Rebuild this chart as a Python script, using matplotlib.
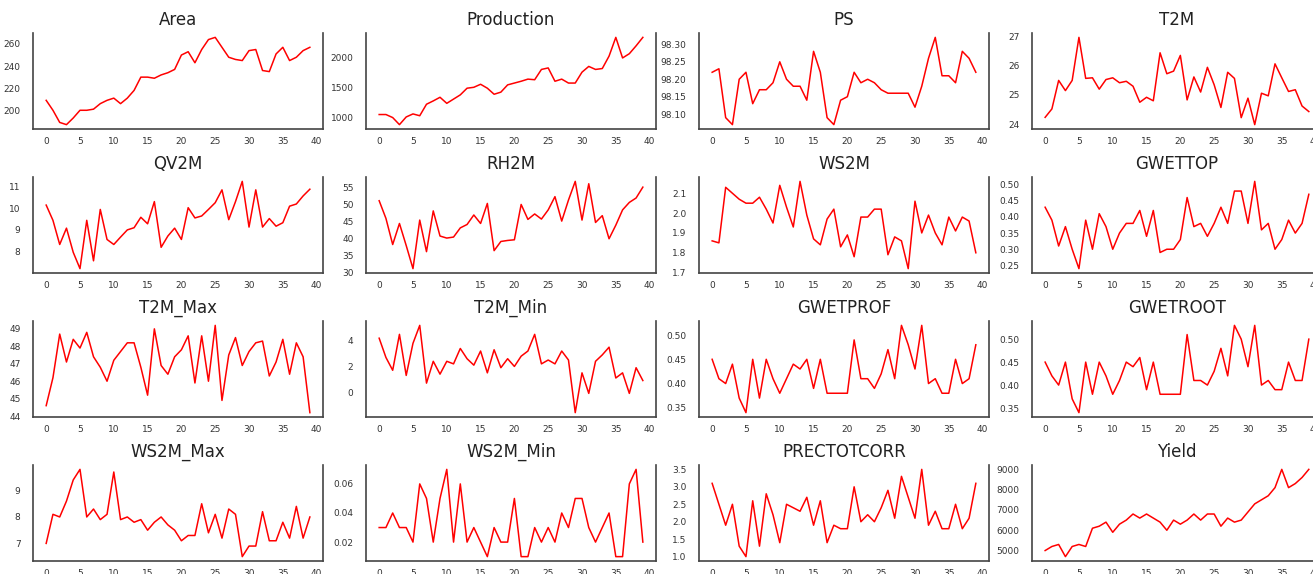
import numpy as np
import matplotlib.pyplot as plt
from matplotlib.ticker import MaxNLocator

# yearly records, index 0..39
area = [209, 200, 189, 187, 193, 200, 200, 201, 206, 209,
        211, 206, 211, 218, 230, 230, 229, 232, 234, 237,
        250, 253, 243, 255, 264, 266, 257, 248, 246, 245,
        254, 255, 236, 235, 251, 257, 245, 248, 254, 257]
production = [1050, 1050, 1000, 883, 1010, 1060, 1030, 1220, 1275, 1335,
              1235, 1305, 1375, 1485, 1500, 1550, 1485, 1385, 1420, 1540,
              1570, 1600, 1635, 1625, 1795, 1820, 1600, 1635, 1570, 1570,
              1750, 1845, 1795, 1810, 2015, 2325, 1985, 2055, 2185, 2325]
ps = [98.22, 98.23, 98.09, 98.07, 98.20, 98.22, 98.13, 98.17, 98.17, 98.19,
      98.25, 98.20, 98.18, 98.18, 98.14, 98.28, 98.22, 98.09, 98.07, 98.14,
      98.15, 98.22, 98.19, 98.20, 98.19, 98.17, 98.16, 98.16, 98.16, 98.16,
      98.12, 98.18, 98.26, 98.32, 98.21, 98.21, 98.19, 98.28, 98.26, 98.22]
t2m = [24.23, 24.52, 25.50, 25.15, 25.50, 26.98, 25.57, 25.59, 25.20, 25.53,
       25.59, 25.42, 25.47, 25.30, 24.75, 24.92, 24.80, 26.45, 25.73, 25.82,
       26.36, 24.83, 25.62, 25.10, 25.95, 25.35, 24.57, 25.78, 25.57, 24.22,
       24.89, 23.98, 25.06, 24.97, 26.07, 25.59, 25.12, 25.18, 24.62, 24.43]
qv2m = [10.14, 9.44, 8.33, 9.08, 7.97, 7.22, 9.44, 7.58, 9.94, 8.56,
        8.33, 8.67, 9.00, 9.10, 9.58, 9.28, 10.30, 8.20, 8.72, 9.08,
        8.56, 10.02, 9.55, 9.64, 9.94, 10.25, 10.84, 9.47, 10.30, 11.23,
        9.13, 10.84, 9.13, 9.52, 9.17, 9.33, 10.09, 10.19, 10.56, 10.87]
rh2m = [51.0, 45.8, 38.1, 44.3, 37.8, 31.0, 45.3, 36.0, 48.0, 40.6,
        40.0, 40.3, 43.0, 44.0, 46.8, 44.3, 50.2, 36.3, 39.0, 39.3,
        39.5, 49.9, 45.5, 47.1, 45.6, 48.3, 52.2, 45.0, 51.2, 56.7,
        45.3, 56.0, 44.6, 46.6, 39.8, 43.8, 48.3, 50.5, 51.8, 55.0]
ws2m = [1.86, 1.85, 2.13, 2.10, 2.07, 2.05, 2.05, 2.08, 2.02, 1.95,
        2.14, 2.03, 1.93, 2.16, 1.99, 1.87, 1.84, 1.97, 2.02, 1.83,
        1.89, 1.78, 1.98, 1.98, 2.02, 2.02, 1.79, 1.88, 1.86, 1.72,
        2.06, 1.90, 1.99, 1.90, 1.84, 1.98, 1.91, 1.98, 1.96, 1.80]
gwettop = [0.43, 0.39, 0.31, 0.37, 0.30, 0.24, 0.39, 0.30, 0.41, 0.37,
           0.30, 0.35, 0.38, 0.38, 0.42, 0.34, 0.42, 0.29, 0.30, 0.30,
           0.33, 0.46, 0.37, 0.38, 0.34, 0.38, 0.43, 0.38, 0.48, 0.48,
           0.38, 0.51, 0.36, 0.38, 0.30, 0.33, 0.39, 0.35, 0.38, 0.47]
t2m_max = [44.6, 46.2, 48.7, 47.1, 48.4, 47.9, 48.8, 47.4, 46.8, 46.0,
           47.2, 47.7, 48.2, 48.2, 46.8, 45.2, 49.0, 46.9, 46.4, 47.4,
           47.8, 48.6, 45.9, 48.6, 46.0, 49.2, 44.9, 47.5, 48.5, 46.9,
           47.7, 48.2, 48.3, 46.3, 47.1, 48.4, 46.4, 48.2, 47.4, 44.2]
t2m_min = [4.2, 2.7, 1.7, 4.5, 1.3, 3.8, 5.2, 0.7, 2.4, 1.4,
           2.4, 2.2, 3.4, 2.6, 2.1, 3.2, 1.5, 3.3, 1.9, 2.6,
           2.0, 2.8, 3.2, 4.5, 2.2, 2.5, 2.2, 3.2, 2.5, -1.6,
           1.5, -0.1, 2.4, 2.9, 3.5, 1.1, 1.5, -0.1, 1.9, 0.9]
gwetprof = [0.45, 0.41, 0.40, 0.44, 0.37, 0.34, 0.45, 0.37, 0.45, 0.41,
            0.38, 0.41, 0.44, 0.43, 0.45, 0.39, 0.45, 0.38, 0.38, 0.38,
            0.38, 0.49, 0.41, 0.41, 0.39, 0.42, 0.47, 0.41, 0.52, 0.48,
            0.43, 0.52, 0.40, 0.41, 0.38, 0.38, 0.45, 0.40, 0.41, 0.48]
gwetroot = [0.45, 0.42, 0.40, 0.45, 0.37, 0.34, 0.45, 0.38, 0.45, 0.42,
            0.38, 0.41, 0.45, 0.44, 0.46, 0.39, 0.45, 0.38, 0.38, 0.38,
            0.38, 0.51, 0.41, 0.41, 0.40, 0.43, 0.48, 0.42, 0.53, 0.50,
            0.44, 0.53, 0.40, 0.41, 0.39, 0.39, 0.45, 0.41, 0.41, 0.50]
ws2m_max = [7.0, 8.1, 8.0, 8.6, 9.4, 9.8, 8.0, 8.3, 7.9, 8.1,
            9.7, 7.9, 8.0, 7.8, 7.9, 7.5, 7.8, 8.0, 7.7, 7.5,
            7.1, 7.3, 7.3, 8.5, 7.4, 8.1, 7.2, 8.3, 8.1, 6.5,
            6.9, 6.9, 8.2, 7.1, 7.1, 7.8, 7.2, 8.4, 7.2, 8.0]
ws2m_min = [0.03, 0.03, 0.04, 0.03, 0.03, 0.02, 0.06, 0.05, 0.02, 0.05,
            0.07, 0.02, 0.06, 0.02, 0.03, 0.02, 0.01, 0.03, 0.02, 0.02,
            0.05, 0.01, 0.01, 0.03, 0.02, 0.03, 0.02, 0.04, 0.03, 0.05,
            0.05, 0.03, 0.02, 0.03, 0.04, 0.01, 0.01, 0.06, 0.07, 0.02]
prectotcorr = [3.1, 2.5, 1.9, 2.5, 1.3, 1.0, 2.6, 1.3, 2.8, 2.2,
               1.4, 2.5, 2.4, 2.3, 2.7, 1.9, 2.6, 1.4, 1.9, 1.8,
               1.8, 3.0, 2.0, 2.2, 2.0, 2.4, 2.9, 2.1, 3.3, 2.7,
               2.1, 3.5, 1.9, 2.3, 1.8, 1.8, 2.5, 1.8, 2.1, 3.1]
yield_ = [5000, 5200, 5300, 4700, 5200, 5300, 5200, 6100, 6200, 6400,
          5900, 6300, 6500, 6800, 6600, 6800, 6600, 6400, 6000, 6500,
          6300, 6500, 6800, 6500, 6800, 6800, 6200, 6600, 6400, 6500,
          6900, 7300, 7500, 7700, 8100, 9000, 8100, 8300, 8600, 9000]

titles = ["Area", "Production", "PS", "T2M",
          "QV2M", "RH2M", "WS2M", "GWETTOP",
          "T2M_Max", "T2M_Min", "GWETPROF", "GWETROOT",
          "WS2M_Max", "WS2M_Min", "PRECTOTCORR", "Yield"]
series = [area, production, ps, t2m,
          qv2m, rh2m, ws2m, gwettop,
          t2m_max, t2m_min, gwetprof, gwetroot,
          ws2m_max, ws2m_min, prectotcorr, yield_]

fig, axes = plt.subplots(4, 4, figsize=(13.13, 5.74), dpi=100)
fig.subplots_adjust(left=33/1313, right=1322/1313, top=1-33/574,
                    bottom=1-561/574, wspace=0.148, hspace=0.5)

for ax, title, vals in zip(axes.flat, titles, series):
    ax.plot(np.arange(len(vals)), vals, color='red', linewidth=1.1)
    ax.set_title(title, fontsize=12, color='#222222', pad=6)
    ax.set_xticks([0, 5, 10, 15, 20, 25, 30, 35, 40])
    ax.yaxis.set_major_locator(MaxNLocator(nbins=6, steps=[1, 2, 5, 10]))
    ax.spines['top'].set_visible(False)
    for side in ['left', 'right', 'bottom']:
        ax.spines[side].set_color('#444444')
        ax.spines[side].set_linewidth(1.2)
    ax.tick_params(axis='both', length=0, labelsize=6.5, labelcolor='#333333')
    ax.tick_params(axis='x', pad=6)
    ax.tick_params(axis='y', pad=9)

fig.savefig('out.png', dpi=100)
